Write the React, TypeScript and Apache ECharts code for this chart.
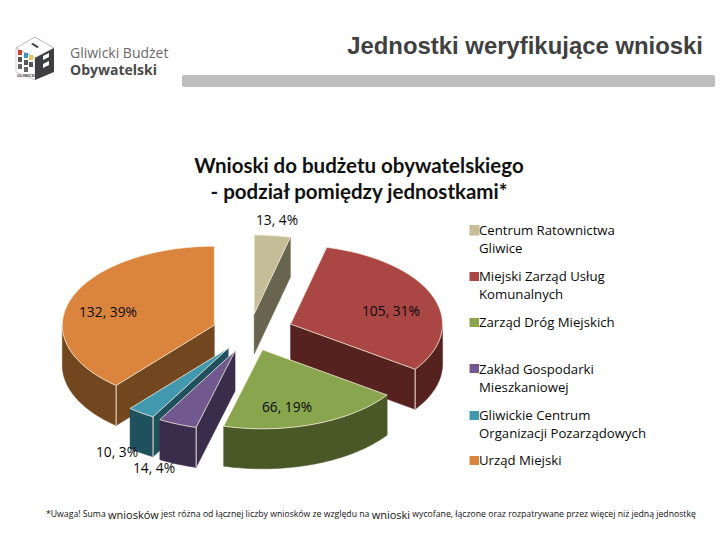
import React, { useEffect, useRef } from "react";
import * as echarts from "echarts";

const categories = [
  "Centrum Ratownictwa\nGliwice",
  "Miejski Zarząd Usług\nKomunalnych",
  "Zarząd Dróg Miejskich",
  "Zakład Gospodarki\nMieszkaniowej",
  "Gliwickie Centrum\nOrganizacji Pozarządowych",
  "Urząd Miejski",
];
const values = [13, 105, 66, 14, 10, 132];
const topColors = ["#C4BD97", "#AA4643", "#89A54E", "#71588F", "#4198AF", "#DB843D"];
const wallColors = ["#69644F", "#562220", "#4A5828", "#3A2D4B", "#1E505E", "#72461E"];
const explosions = [0.23, 0.285, 0.24, 0.26, 0.25, 0.25];
const drawRanks = [0, 1, 5, 4, 3, 2];
const labelCenters = [
  [277, 219],
  [391, 310],
  [287, 406],
  [154, 467],
  [117, 451],
  [108, 311],
];
const legendSwatchTops = [225, 272, 318, 364, 411, 456];
const legendTextTops = [230, 275.7, 321.7, 368.7, 415, 460];

const CX = 250;
const CY = 332;
const RX = 152;
const RY = 79;
const DEPTH = 40;
const LABEL_FONT = '"Open Sans", sans-serif';

const total = values.reduce((a, b) => a + b, 0);
const rad = (d: number) => (d * Math.PI) / 180;

function renderSlice(params: any, api: any) {
  const i = params.dataIndex;
  const value = api.value(0);
  let before = 0;
  for (let k = 0; k < i; k++) before += values[k];
  const a0 = (before / total) * 360;
  const a1 = ((before + value) / total) * 360;
  const mid = rad((a0 + a1) / 2);
  const e = explosions[i];
  const ax = CX + Math.sin(mid) * e * RX;
  const ay = CY - Math.cos(mid) * e * RY;
  const pt = (deg: number, dz = 0) => [
    ax + RX * Math.sin(rad(deg)),
    ay - RY * Math.cos(rad(deg)) + dz,
  ];
  const arc = (from: number, to: number, dz = 0) => {
    const out: number[][] = [];
    const n = Math.max(2, Math.ceil((to - from) / 2));
    for (let k = 0; k <= n; k++) out.push(pt(from + ((to - from) * k) / n, dz));
    return out;
  };
  const rank = drawRanks[i] * 10;
  const wall = wallColors[i];
  const children: any[] = [];
  const addWall = (points: number[][]) =>
    children.push({
      type: "polygon",
      z2: rank + 1,
      shape: { points },
      style: { fill: wall, stroke: wall, lineWidth: 0.5 },
    });
  // cut faces that look towards the viewer
  const radial = (deg: number) => {
    const p = pt(deg);
    addWall([[ax, ay], p, [p[0], p[1] + DEPTH], [ax, ay + DEPTH]]);
  };
  const startVisible = Math.sin(rad(a0)) < -1e-6;
  const endVisible = Math.sin(rad(a1)) > 1e-6;
  if (startVisible) radial(a0);
  if (endVisible) radial(a1);
  // outer rim, front half only
  const r0 = Math.max(a0, 90);
  const r1 = Math.min(a1, 270);
  if (r1 > r0) addWall([...arc(r0, r1), ...arc(r0, r1, DEPTH).reverse()]);
  // highlighted corner between a cut face and the rim
  const cornerAngle = startVisible ? a0 : endVisible ? a1 : null;
  if (cornerAngle !== null && cornerAngle > 90 && cornerAngle < 270) {
    const p = pt(cornerAngle);
    children.push({
      type: "line",
      z2: rank + 2,
      shape: { x1: p[0], y1: p[1], x2: p[0], y2: p[1] + DEPTH },
      style: { stroke: "#F2EBD8", lineWidth: 1 },
    });
  }
  // top face
  children.push({
    type: "polygon",
    z2: rank + 3,
    shape: { points: [[ax, ay], ...arc(a0, a1)] },
    style: { fill: topColors[i], stroke: "#F6EFDC", lineWidth: 0.8 },
  });
  const pct = Math.round((value / total) * 100);
  children.push({
    type: "text",
    z2: 200,
    style: {
      x: labelCenters[i][0],
      y: labelCenters[i][1],
      text: `${value}, ${pct}%`,
      font: `13.8px ${LABEL_FONT}`,
      fill: "#0a0a0a",
      align: "center",
      verticalAlign: "middle",
    },
  });
  return { type: "group", children };
}

function logoGraphics() {
  const g: any[] = [];
  const dark = "#3F3F41";
  const poly = (points: number[][], fill: string, stroke?: string) =>
    g.push({ type: "polygon", shape: { points }, style: { fill, stroke, lineWidth: 0.7 } });
  poly([[35, 37], [54, 48], [35, 58], [16, 48]], "#FFFFFF", "#9A9A9A");
  poly([[16, 48], [35, 58], [35, 80], [16, 72]], "#FFFFFF", "#BBBBBB");
  poly([[35, 58], [54, 48], [54, 72], [35, 80]], dark);
  poly([[31, 44], [33, 43], [39, 47], [37, 48]], dark);
  const tile = (x: number, y: number, fill: string) =>
    g.push({ type: "rect", shape: { x, y, width: 4, height: 5 }, style: { fill } });
  tile(18, 50, "#C8443C");
  tile(24, 53, "#3E8FC0");
  tile(29, 55, "#E8C84A");
  tile(18, 57, "#555555");
  tile(24, 60, "#555555");
  tile(29, 62, "#555555");
  tile(18, 64, "#666666");
  tile(24, 67, "#666666");
  poly([[43, 56], [49, 53], [49, 57], [43, 60]], "#FFFFFF");
  poly([[43, 64], [49, 61], [49, 65], [43, 68]], "#FFFFFF");
  g.push({
    type: "text",
    style: { x: 17, y: 73, text: "GLIWICE", font: "bold 4.2px sans-serif", fill: dark },
  });
  g.push({
    type: "text",
    style: {
      x: 70,
      y: 52.5,
      text: "Gliwicki Budżet",
      font: '14px "Open Sans", sans-serif',
      fill: "#6A6A6A",
      verticalAlign: "middle",
    },
  });
  g.push({
    type: "text",
    style: {
      x: 70,
      y: 69.5,
      text: "Obywatelski",
      font: 'bold 14px "Open Sans", sans-serif',
      fill: "#4A4A4A",
      verticalAlign: "middle",
    },
  });
  return g;
}

function legendGraphics() {
  const g: any[] = [];
  categories.forEach((name, i) => {
    g.push({
      type: "rect",
      shape: { x: 469.5, y: legendSwatchTops[i], width: i === 0 ? 10 : 9.5, height: i === 0 ? 10.5 : 9 },
      style: { fill: topColors[i] },
    });
    name.split("\n").forEach((line, k) => {
      g.push({
        type: "text",
        style: {
          x: 479,
          y: legendTextTops[i] + k * 18,
          text: line,
          font: '13.2px "Open Sans", sans-serif',
          fill: "#0a0a0a",
          verticalAlign: "middle",
        },
      });
    });
  });
  return g;
}

export default function App() {
  const ref = useRef<HTMLDivElement>(null);
  useEffect(() => {
    document.body.style.margin = "0";
    const chart = echarts.init(ref.current!, undefined, { renderer: "svg" });
    chart.setOption({
      animation: false,
      backgroundColor: "#FFFFFF",
      series: [
        {
          type: "custom",
          coordinateSystem: "none",
          renderItem: renderSlice,
          data: values,
          silent: true,
        },
      ],
      graphic: [
        {
          type: "rect",
          shape: { x: 182, y: 75, width: 533, height: 12, r: 2 },
          style: { fill: "#BEBEBE" },
        },
        {
          type: "text",
          style: {
            x: 703,
            y: 45,
            text: "Jednostki weryfikujące wnioski",
            font: 'bold 23.9px "Liberation Sans", Arial, sans-serif',
            fill: "#404040",
            align: "right",
            verticalAlign: "middle",
          },
        },
        {
          type: "text",
          style: {
            x: 359,
            y: 165,
            text: "Wnioski do budżetu obywatelskiego",
            font: "bold 20.5px Lato, sans-serif",
            fill: "#111111",
            align: "center",
            verticalAlign: "middle",
          },
        },
        {
          type: "text",
          style: {
            x: 359,
            y: 191,
            text: "- podział pomiędzy jednostkami*",
            font: "bold 20.5px Lato, sans-serif",
            fill: "#111111",
            align: "center",
            verticalAlign: "middle",
          },
        },
        {
          type: "text",
          style: {
            x: 46,
            y: 514,
            text: "*Uwaga! Suma {b|wniosków} jest różna od łącznej liczby wniosków ze względu na {b|wnioski} wycofane, łączone oraz rozpatrywane przez więcej niż jedną jednostkę",
            font: '8.7px "Open Sans", sans-serif',
            fill: "#111111",
            verticalAlign: "middle",
            rich: { b: { font: '11px "Open Sans", sans-serif', fill: "#111111" } },
          },
        },
        ...logoGraphics(),
        ...legendGraphics(),
      ],
    });
    return () => chart.dispose();
  }, []);
  return <div ref={ref} style={{ width: 720, height: 540 }} />;
}
